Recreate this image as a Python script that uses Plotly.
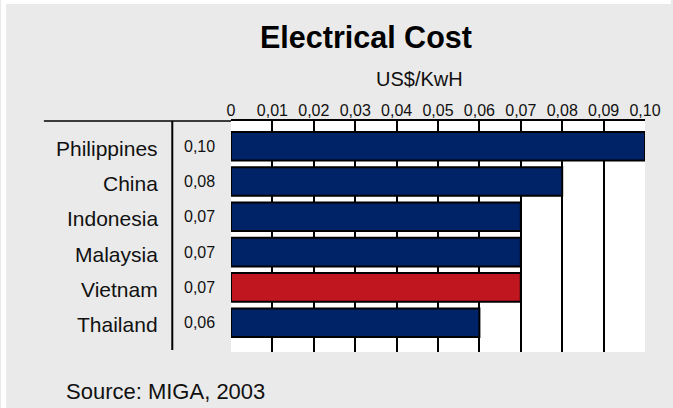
import plotly.graph_objects as go

countries = ["Philippines", "China", "Indonesia", "Malaysia", "Vietnam", "Thailand"]
costs = [0.10, 0.08, 0.07, 0.07, 0.07, 0.06]
colors = ["#002266", "#002266", "#002266", "#002266", "#C0161F", "#002266"]
tick_vals = [0, 0.01, 0.02, 0.03, 0.04, 0.05, 0.06, 0.07, 0.08, 0.09, 0.10]
tick_text = ["0", "0,01", "0,02", "0,03", "0,04", "0,05", "0,06", "0,07", "0,08", "0,09", "0,10"]

W, H = 673, 408
L, R, T, B = 231, 26, 121, 56
PW, PH = W - L - R, H - T - B

def px_x(x):
    return (x - L) / PW

def px_y(y):
    return (H - B - y) / PH

FONT = "Liberation Sans, Arial, sans-serif"

fig = go.Figure()
fig.add_trace(go.Bar(
    x=costs, y=countries, orientation="h",
    marker=dict(color=colors, line=dict(color="black", width=2)),
    width=0.81, hoverinfo="skip",
))

ann = []
for c, v in zip(countries, costs):
    ann.append(dict(x=px_x(160), y=c, xref="paper", yref="y", text=c,
                    xanchor="right", yanchor="middle", showarrow=False, yshift=-2,
                    font=dict(family=FONT, size=21, color="#111111")))
    ann.append(dict(x=px_x(182), y=c, xref="paper", yref="y",
                    text=f"{v:.2f}".replace(".", ","),
                    xanchor="left", yanchor="middle", showarrow=False,
                    font=dict(family=FONT, size=16, color="#111111")))

ann.append(dict(x=px_x(367), y=px_y(37), xref="paper", yref="paper",
                text="<b>Electrical Cost</b>", showarrow=False,
                xanchor="center", yanchor="middle",
                font=dict(family=FONT, size=30.5, color="black")))
ann.append(dict(x=px_x(420), y=px_y(79), xref="paper", yref="paper",
                text="US$/KwH", showarrow=False,
                xanchor="center", yanchor="middle",
                font=dict(family=FONT, size=20, color="#111111")))
ann.append(dict(x=px_x(63), y=px_y(391), xref="paper", yref="paper",
                text="Source: MIGA, 2003", showarrow=False,
                xanchor="left", yanchor="middle",
                font=dict(family=FONT, size=22, color="#111111")))

shapes = [
    # white outer margins
    dict(type="rect", xref="paper", yref="paper", x0=px_x(0), x1=px_x(W), y0=px_y(4), y1=px_y(0),
         fillcolor="white", line=dict(width=0), layer="below"),
    dict(type="rect", xref="paper", yref="paper", x0=px_x(0), x1=px_x(5), y0=px_y(H), y1=px_y(0),
         fillcolor="white", line=dict(width=0), layer="below"),
    # header rule extending left of plot
    dict(type="line", xref="paper", yref="paper", x0=px_x(43), x1=0, y0=1, y1=1,
         line=dict(color="black", width=1.5)),
    # vertical separator
    dict(type="line", xref="paper", yref="paper", x0=px_x(172), x1=px_x(172), y0=px_y(350), y1=1,
         line=dict(color="black", width=2)),
]

fig.update_layout(
    width=W, height=H,
    margin=dict(l=L, r=R, t=T, b=B, pad=0),
    paper_bgcolor="#EAEAEA", plot_bgcolor="white",
    showlegend=False,
    annotations=ann, shapes=shapes,
    font=dict(family=FONT, color="#111111"),
    xaxis=dict(side="top", range=[0, 0.1], tickvals=tick_vals, ticktext=tick_text,
               showgrid=True, gridcolor="black", gridwidth=1.5, zeroline=False,
               showline=True, linecolor="black", linewidth=1.5, ticks="",
               ticklabelstandoff=-3,
               tickfont=dict(family=FONT, size=16, color="#111111"), fixedrange=True),
    yaxis=dict(type="category", categoryarray=countries, categoryorder="array",
               range=[5.83, -0.714], showticklabels=False, showgrid=False,
               zeroline=False, showline=False, ticks="", fixedrange=True),
)

fig.write_html("out.html", config={"displayModeBar": False},
               post_script=("document.body.style.margin='0';"
                            "document.body.style.overflow='hidden';"
                            "document.body.style.background='#EAEAEA';"
                            "document.documentElement.style.background='#EAEAEA';"))
